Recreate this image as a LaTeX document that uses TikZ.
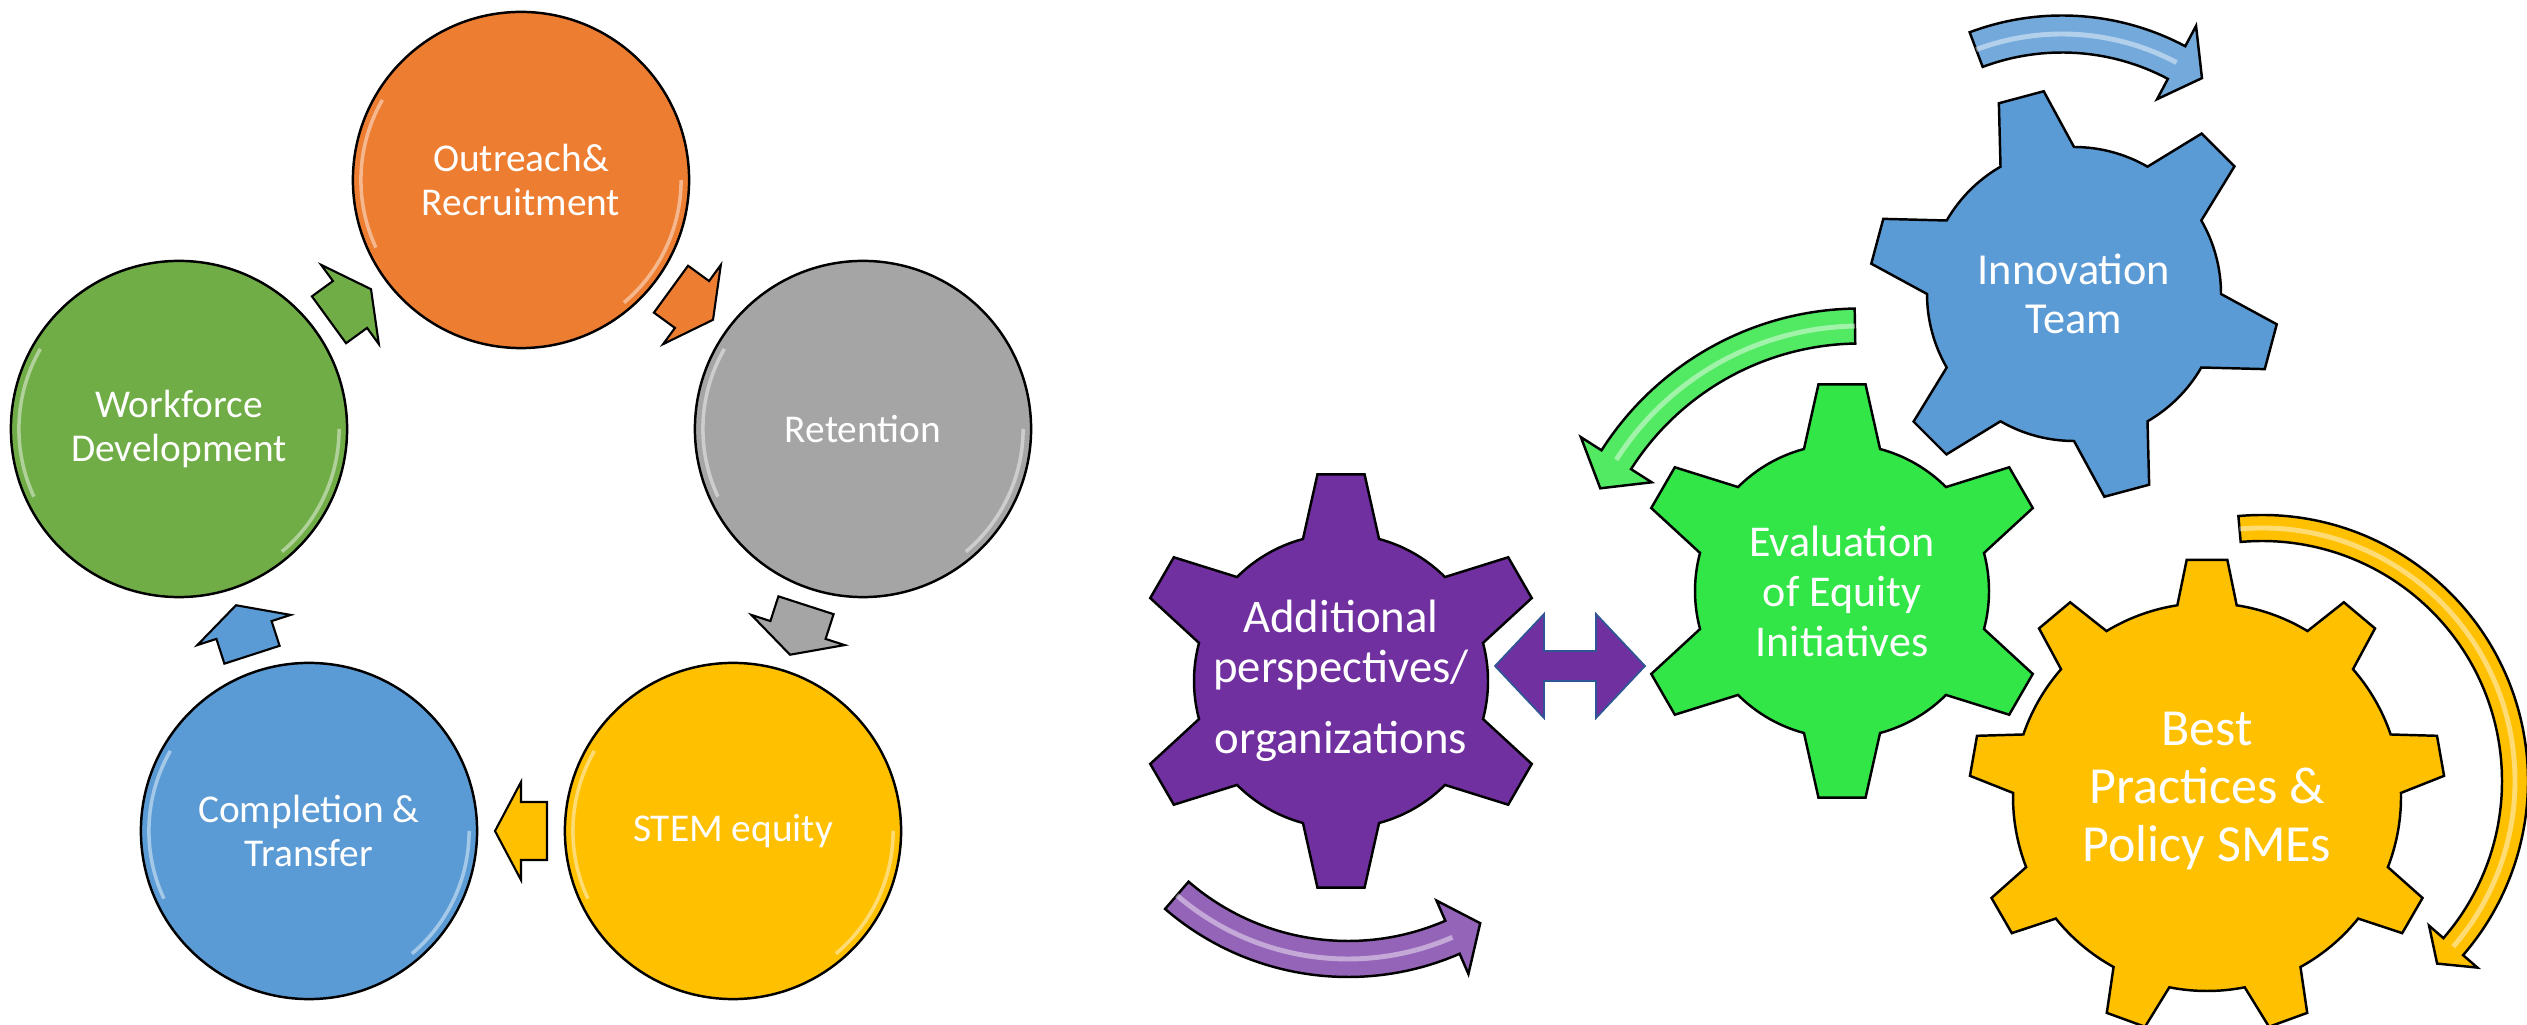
\documentclass[tikz,border=0pt]{standalone}
\usepackage{fontspec}
\setmainfont{Carlito}
\setsansfont{Carlito}
\usepackage{tikz}
\usetikzlibrary{calc}
\tikzstyle{every picture}+=[font=\sffamily]

\definecolor{orng}{HTML}{ED7D31}
\definecolor{slate}{HTML}{A5A5A5}
\definecolor{gold}{HTML}{FFC000}
\definecolor{sky}{HTML}{5B9BD5}
\definecolor{leaf}{HTML}{70AD47}
\definecolor{plum}{HTML}{7030A0}
\definecolor{lime}{RGB}{51,230,71}
\definecolor{ink}{RGB}{47,85,151}

\newcommand{\cogwheel}[8]{%
	\filldraw[cog, fill=#1, shift={#2}] (#4-#7:#6)
		\foreach \tooth [evaluate=\tooth as \ang using {#4+(\tooth-1)*360/#3}] in {1,...,#3}
		{-- (\ang-#7:#6) -- (\ang-#8:#5) -- (\ang+#8:#5) -- (\ang+#7:#6)
		arc[start angle=\ang+#7, end angle=\ang+360/#3-#7, radius=#6]} -- cycle;}

\newcommand{\bentarrow}[8]{%
	\filldraw[bent, fill=#1, shift={#2}] (#6:#3+#4)
		arc[start angle=#6, end angle=#7, radius=#3+#4] -- (#7:#3+#5) -- (#8:#3)
		-- (#7:#3-#5) -- (#7:#3-#4) arc[start angle=#7, end angle=#6, radius=#3-#4] -- cycle;
	\draw[shine, shift={#2}] (#6:#3) arc[start angle=#6, end angle=#7, radius=#3];}

\begin{document}
\begin{tikzpicture}
	[x=0.01cm, y=0.01cm,
	stage/.style		= {circle, draw, line width=0.7pt, minimum size=3.36cm, inner sep=0pt, align=center, text=white, font=\fontsize{11.2}{12.5}\selectfont, gloss},
	gloss/.style		= {path picture={\draw[white, opacity=.45, line width=1pt]
		([shift={(150:1.6cm)}]path picture bounding box.center) arc[start angle=150, end angle=205, radius=1.6cm]
		([shift={(-50:1.6cm)}]path picture bounding box.center) arc[start angle=-50, end angle=0, radius=1.6cm];}},
	cyclearrow/.pic		= {\filldraw[fill=#1, line width=0.6pt] (-26,-29) -- (0,-29) -- (0,-49) -- (26,0) -- (0,49) -- (0,29) -- (-26,29) -- cycle;},
	cog/.style		= {line width=0.7pt},
	bent/.style		= {line width=0.7pt},
	shine/.style		= {white, opacity=.45, line width=1.4pt},
	geartext/.style	= {text=white, align=center, inner sep=0pt}]
	
	\useasboundingbox (0,0) rectangle (2527,1024);
	\clip (0,0) rectangle (2527,1024);
	
	\node at (521, 844)	[stage, fill=orng]	(outreach)	{Outreach\&\\Recruitment};
	\node at (863, 595)	[stage, fill=slate]	(retention)	{Retention};
	\node at (733, 193)	[stage, fill=gold]	(stem)		{STEM equity};
	\node at (309, 193)	[stage, fill=sky]	(completion)	{Completion \&\\Transfer};
	\node at (179, 595)	[stage, fill=leaf]	(workforce)	{Workforce\\Development};
	
	\path (outreach) -- (retention) pic[midway, sloped, allow upside down] {cyclearrow=orng};
	\path (retention) -- (stem) pic[midway, sloped, allow upside down] {cyclearrow=slate};
	\path (stem) -- (completion) pic[midway, sloped, allow upside down] {cyclearrow=gold};
	\path (completion) -- (workforce) pic[midway, sloped, allow upside down] {cyclearrow=sky};
	\path (workforce) -- (outreach) pic[midway, sloped, allow upside down] {cyclearrow=leaf};
	
	\cogwheel{plum}{(1341,343)}{6}{90}{208}{147}{15}{6.5}
	\cogwheel{lime}{(1842,433)}{6}{90}{208}{147}{15}{6.5}
	\cogwheel{sky}{(2074,730)}{6}{105}{205}{147}{15}{6.5}
	\cogwheel{gold}{(2207,227)}{9}{90}{238}{194}{8.8}{4.9}
	
	\node at (2074, 730)	[geartext, font=\fontsize{12.6}{14}\selectfont]	(innovation)	{Innovation\\Team};
	\node at (1842, 433)	[geartext, font=\fontsize{12.5}{14.2}\selectfont]	(evaluation)	{Evaluation\\of Equity\\Initiatives};
	\node at (1341, 343)	[geartext, font=\fontsize{13.3}{14.2}\selectfont]	(additional)	{Additional\\perspectives/\\[6pt]organizations};
	\node at (2207, 233)	[geartext, font=\fontsize{14.8}{16.6}\selectfont]	(practices)	{Best\\Practices \&\\Policy SMEs};
	
	\bentarrow{sky!85!white}{(2062,746)}{244}{18.5}{41.5}{110.6}{62}{55}
	\bentarrow{lime!85!white}{(1860,409)}{289}{17.5}{42}{91}{147.5}{154}
	\bentarrow{gold}{(2262,243)}{253}{13}{32}{95.1}{-40.9}{-46.2}
	\bentarrow{plum!75!white}{(1348,327)}{262}{18}{40}{229.2}{293.5}{300.3}
	
	\coordinate (link) at (1570, 358);
	\filldraw[fill=plum, draw=ink, line width=0.5pt, shift={(link)}] (-75,0) -- (-26,52) -- (-26,15) -- (26,15) -- (26,52) -- (75,0) -- (26,-52) -- (26,-15) -- (-26,-15) -- (-26,-52) -- cycle;
	
\end{tikzpicture}
\end{document}
